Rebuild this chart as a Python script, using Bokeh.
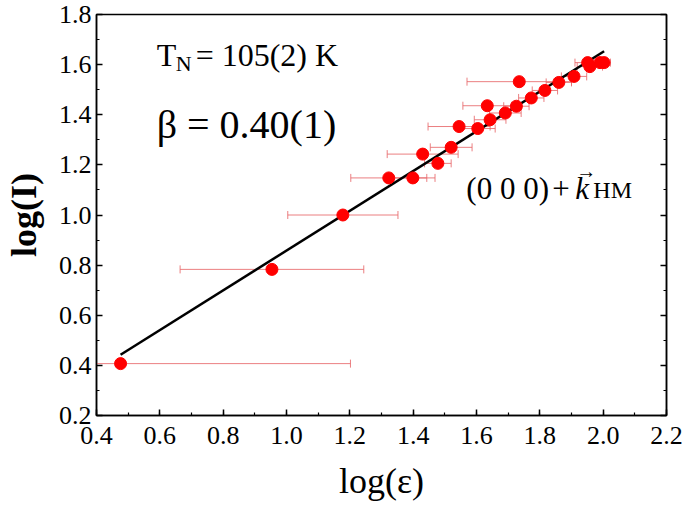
import numpy as np
from bokeh.plotting import figure
from bokeh.models import (ColumnDataSource, Range1d, SingleIntervalTicker, LinearAxis,
                          NumeralTickFormatter, Label, CustomLabelingPolicy)
from bokeh.embed import file_html
from bokeh.resources import INLINE

# ---- data ----
log_eps = [0.476, 0.954, 1.178, 1.323, 1.399, 1.430, 1.478, 1.520, 1.545, 1.604, 1.634,
           1.643, 1.691, 1.726, 1.735, 1.773, 1.816, 1.860, 1.908, 1.951, 1.958, 1.990, 2.003]
log_I = [0.407, 0.783, 1.000, 1.148, 1.148, 1.243, 1.206, 1.270, 1.353, 1.345, 1.436,
         1.380, 1.407, 1.434, 1.532, 1.467, 1.497, 1.529, 1.553, 1.608, 1.592, 1.608, 1.608]
x_err = [0.726, 0.290, 0.174, 0.120, 0.070, 0.112, 0.042, 0.066, 0.098, 0.055, 0.077,
         0.050, 0.050, 0.040, 0.165, 0.040, 0.040, 0.040, 0.040, 0.040, 0.040, 0.020, 0.020]
fit_slope = 0.793
fit_intercept = 0.065
fit_x = [0.476, 2.003]
x_ticks_interval = 0.2
y_ticks_interval = 0.2

FONT = "Liberation Serif"

xs = np.array(log_eps)
ys = np.array(log_I)
xe = np.array(x_err)
src = ColumnDataSource(dict(x=xs, y=ys, lo=xs - xe, hi=xs + xe))
fit_src = ColumnDataSource(dict(x=fit_x, y=[fit_slope * v + fit_intercept for v in fit_x]))

p = figure(frame_width=570, frame_height=401, output_backend="svg", toolbar_location=None,
           x_range=Range1d(0.4, 2.2), y_range=Range1d(0.2, 1.8),
           min_border_left=90, min_border_top=14, min_border_bottom=80, min_border_right=10,
           background_fill_color="white", border_fill_color="white")
p.grid.visible = False
p.outline_line_color = "black"
p.outline_line_width = 1.5

ERR = "#e8696b"
# error bars
p.segment(x0="lo", y0="y", x1="hi", y1="y", source=src, line_color=ERR, line_width=1, line_alpha=0.85)
p.scatter(x="lo", y="y", source=src, marker="dash", angle=np.pi / 2, size=8,
          line_color=ERR, line_width=1, line_alpha=0.85)
p.scatter(x="hi", y="y", source=src, marker="dash", angle=np.pi / 2, size=8,
          line_color=ERR, line_width=1, line_alpha=0.85)
# fit line
p.line(x="x", y="y", source=fit_src, line_color="black", line_width=2.5)
# points
p.scatter(x="x", y="y", source=src, size=12, fill_color="#ff0000", line_color="#ff0000")

xt = SingleIntervalTicker(interval=x_ticks_interval, num_minor_ticks=2)
yt = SingleIntervalTicker(interval=y_ticks_interval, num_minor_ticks=2)
p.xaxis.ticker = xt
p.yaxis.ticker = yt
p.xaxis.formatter = NumeralTickFormatter(format="0.0")
p.yaxis.formatter = NumeralTickFormatter(format="0.0")

for axes in (p.xaxis, p.yaxis):
    axes.major_tick_in = 6
    axes.major_tick_out = 0
    axes.minor_tick_in = 3
    axes.minor_tick_out = 0
    axes.axis_line_width = 1.5
    axes.major_tick_line_width = 1.5
    axes.minor_tick_line_width = 1.2
    axes.major_label_text_font = FONT
    axes.major_label_text_font_size = "26px"
    axes.major_label_text_color = "black"
    axes.axis_label_text_font = FONT
    axes.axis_label_text_color = "black"

p.xaxis.axis_label = "log(ε)"
p.xaxis.axis_label_text_font_size = "36px"
p.xaxis.axis_label_text_font_style = "normal"
p.xaxis.major_label_standoff = 11
p.xaxis.axis_label_standoff = 14

p.yaxis.axis_label = "log(I)"
p.yaxis.axis_label_text_font_size = "36px"
p.yaxis.axis_label_text_font_style = "bold"
p.yaxis.major_label_standoff = 5
p.yaxis.axis_label_standoff = 12

right = LinearAxis(ticker=yt, major_tick_in=6, major_tick_out=0,
                   minor_tick_in=3, minor_tick_out=0, axis_line_width=1.5,
                   major_tick_line_width=1.5, minor_tick_line_width=1.2, major_label_standoff=0,
                   major_label_policy=CustomLabelingPolicy(code="return []"))
p.add_layout(right, "right")

def lab(x, y, text, size, dx=0, dy=0, style="normal"):
    p.add_layout(Label(x=x, y=y, text=text, x_offset=dx, y_offset=dy, text_font=FONT,
                       text_font_size=size, text_font_style=style, text_color="black",
                       text_baseline="alphabetic", text_align="left"))

# T_N = 105(2) K
lab(0.59, 1.637, "T", "32px")
lab(0.59, 1.637, "N", "22px", dx=19, dy=-8)
lab(0.59, 1.637, "= 105(2) K", "32px", dx=39)
# beta
lab(0.59, 1.360, "β = 0.40(1)", "40px")
# (0 0 0) + k_HM
ky = 1.107
lab(1.568, ky, "(0 0 0)", "31px")
lab(1.568, ky, "+", "31px", dx=86)
lab(1.568, ky, "k", "31px", dx=109, style="italic")
lab(1.568, ky, "→", "20px", dx=110, dy=17)
lab(1.568, ky, "HM", "24px", dx=127, dy=-2)

open("out.html", "w").write(file_html(p, INLINE))
